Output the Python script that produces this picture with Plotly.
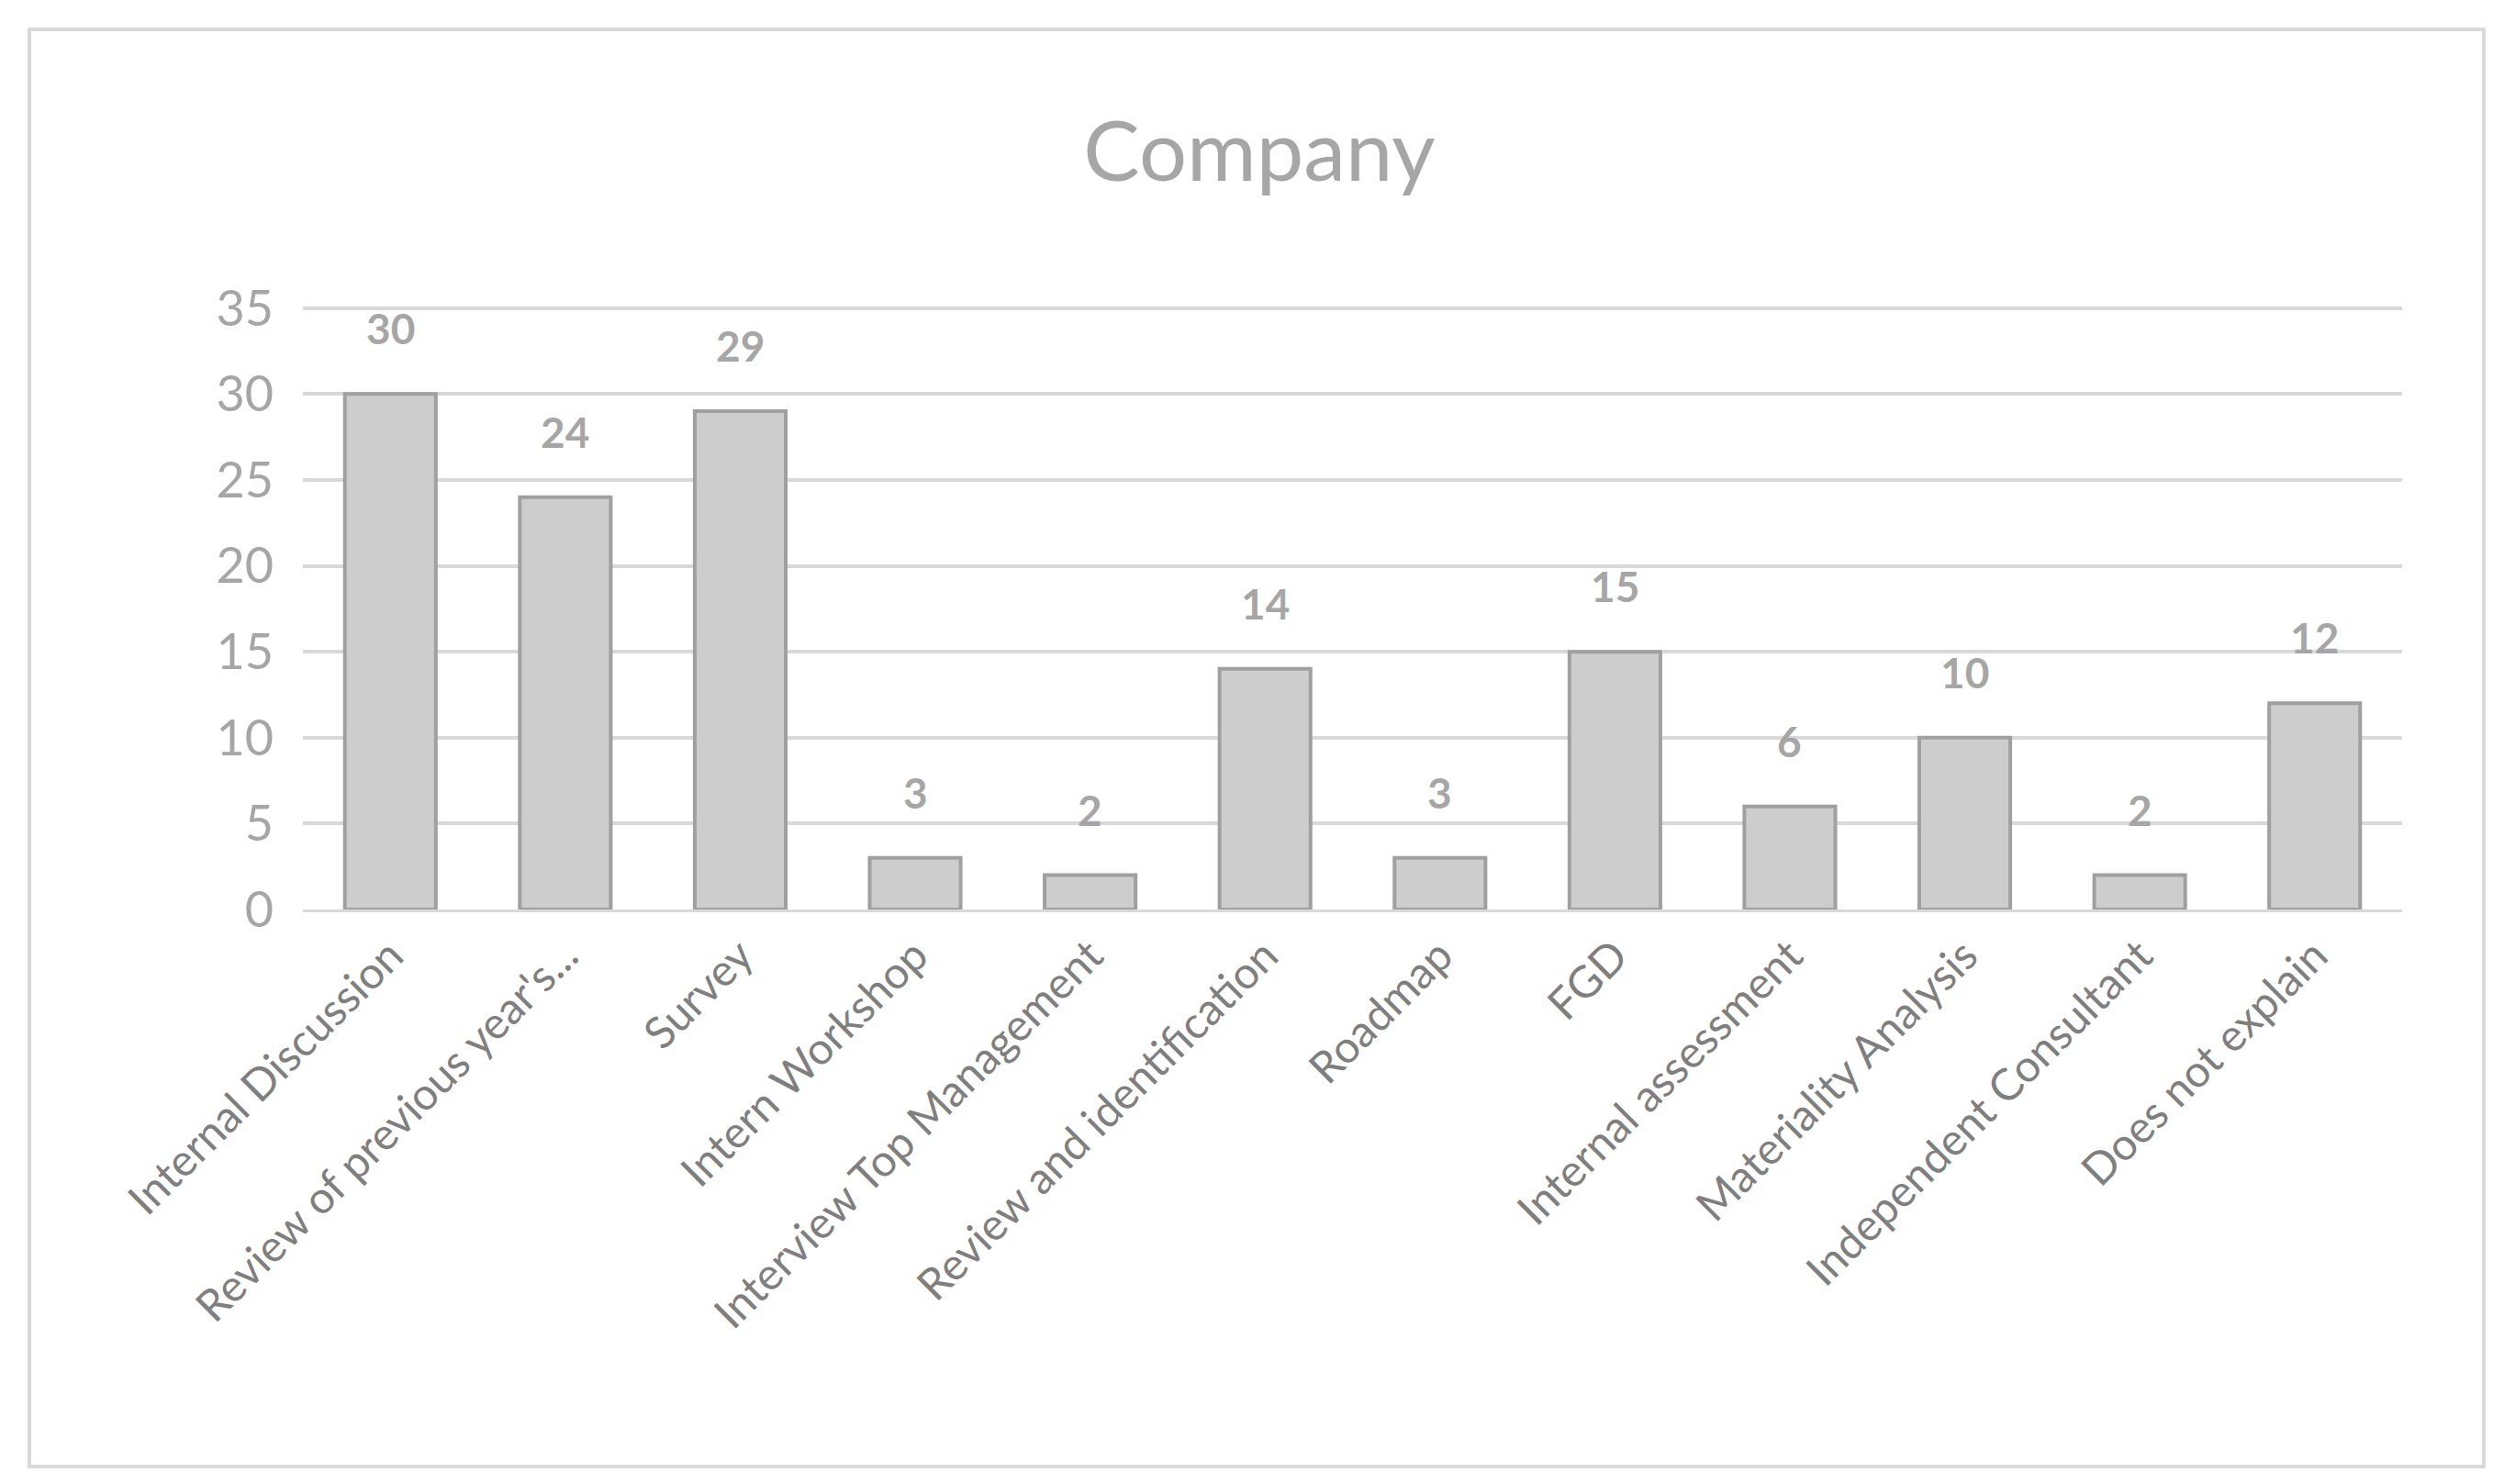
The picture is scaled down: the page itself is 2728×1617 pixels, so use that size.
import plotly.graph_objects as go

categories = ["Internal Discussion", "Review of previous year's...", "Survey", "Intern Workshop",
              "Interview Top Management", "Review and identification", "Roadmap", "FGD",
              "Internal assessment", "Materiality Analysis", "Independent Consultant", "Does not explain"]
values = [30, 24, 29, 3, 2, 14, 3, 15, 6, 10, 2, 12]
yticks = [0, 5, 10, 15, 20, 25, 30, 35]

W, H = 2728, 1617
fig = go.Figure(go.Bar(
    x=categories, y=values,
    marker=dict(color="#CDCDCD", line=dict(color="#A0A0A0", width=4)),
    cliponaxis=False,
))
for c, v in zip(categories, values):
    fig.add_annotation(x=c, y=v, text=f"<b>{v}</b>", showarrow=False, yanchor="bottom", yshift=42,
                       font=dict(family="Lato", size=46, color="#A6A6A6"))
fig.update_layout(
    width=W, height=H, paper_bgcolor="white", plot_bgcolor="white",
    margin=dict(l=322, r=W - 2609, t=323, b=H - 983),
    title=dict(text="Company", x=0.5, xanchor="center", y=1 - 157 / H, yanchor="middle",
               font=dict(family="Lato", size=92, color="#A6A6A6")),
    bargap=0.48, showlegend=False,
    xaxis=dict(tickangle=-45, tickfont=dict(family="Lato", size=48, color="#7F7F7F"),
               showline=True, linecolor="#D9D9D9", linewidth=3, ticks=""),
    yaxis=dict(range=[0, 35.25], tickvals=yticks, showgrid=True, gridcolor="#D9D9D9", gridwidth=4,
               tickfont=dict(family="Lato", size=54, color="#A6A6A6"), zeroline=False, ticklen=20,
               ticks="outside", tickcolor="white"),
    shapes=[dict(type="rect", xref="paper", yref="paper", x0=-298 / 2287, x1=1 + 89 / 2287,
                 y0=-(1590 - 983) / 660, y1=1 + (323 - 24) / 660,
                 line=dict(color="#D9D9D9", width=4))],
)
fig.write_html("out.html")
